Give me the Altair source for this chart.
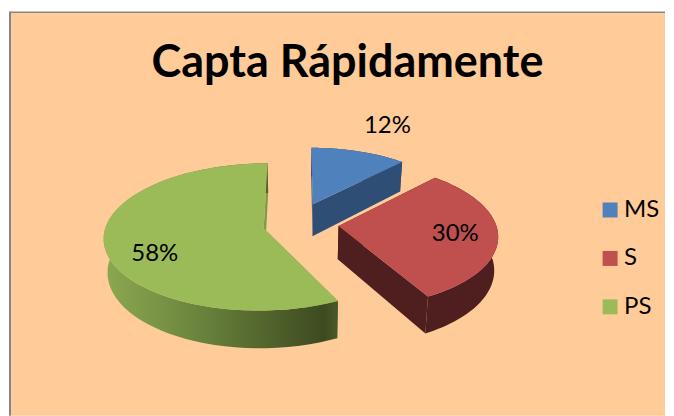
import math
import altair as alt
import pandas as pd

# ---- chart values ----
names = ["MS", "S", "PS"]
shares = [12, 30, 58]
labels = ["12%", "30%", "58%"]
top_colors = ["#4F81BD", "#C0504D", "#9BBB59"]
side_colors = ["#2F4E75", "#4F1F1F", "#7F9A48"]
title_text = "Capta Rápidamente"

# ---- 3-D view of the exploded pie ----
CX, CY, A, B, K, DEPTH, SHRINK = 300, 224, 160, 72.8, 0.12, 33, 0.98
explode = [0.30, 0.23, 0.23]
radius = [0.92, 0.985, 0.985]
nudge_u = [-0.025, 0.015, 0.0]
start_trim = [0.0, 0.0, 2.5]
label_x = [388, 456, 155]
label_y = [126, 234, 254]


def top(u, v):
    s = 1 / (1 - K * v)
    return CX + A * u * s, CY + B * v * s, s


def bottom(u, v):
    x, y, s = top(u, v)
    return CX + (x - CX) * SHRINK, y + DEPTH * s


def slice_geometry():
    out, start = [], 0.0
    for share, e, r, n, trim in zip(shares, explode, radius, nudge_u, start_trim):
        sweep = share * 3.6
        mid = math.radians(start + sweep / 2)
        ou, ov = e * math.sin(mid) + n, -e * math.cos(mid)
        a0, a1 = start + trim, start + sweep
        rim = [
            (ou + r * math.sin(math.radians(a0 + (a1 - a0) * j / 60)),
             ov - r * math.cos(math.radians(a0 + (a1 - a0) * j / 60)))
            for j in range(61)
        ]
        out.append(((ou, ov), rim))
        start += sweep
    return out


geom = slice_geometry()
top_rows, cut_rows, wall_rows = [], [], []
for name, (apex, rim) in zip(names, geom):
    for i, p in enumerate([apex] + rim):
        x, y, _ = top(*p)
        top_rows.append(dict(series=name, i=i, x=x, y=y))
    # outer wall: rim on the upper face, back along the lower face
    n = 0
    for p in rim:
        x, y, _ = top(*p)
        wall_rows.append(dict(series=name, i=n, x=x, y=y))
        n += 1
    for p in reversed(rim):
        x, y = bottom(*p)
        wall_rows.append(dict(series=name, i=n, x=x, y=y))
        n += 1
    # the two cut faces
    for face, p in enumerate([rim[0], rim[-1]]):
        pts = [top(*apex)[:2], top(*p)[:2], bottom(*p), bottom(*apex)]
        for i, (x, y) in enumerate(pts):
            cut_rows.append(dict(series=name, face=face, i=i, x=x, y=y))

tops = pd.DataFrame(top_rows)
walls = pd.DataFrame(wall_rows)
cuts = pd.DataFrame(cut_rows)

xs = alt.Scale(domain=[8, 666], range=[0, 658], nice=False, zero=False)
ys = alt.Scale(domain=[8, 416], range=[0, 408], nice=False, zero=False)
X = alt.X("x:Q", scale=xs, axis=None)
Y = alt.Y("y:Q", scale=ys, axis=None)

frame = alt.Chart(pd.DataFrame([dict(x=11, x2=666, y=12.5, y2=416)])).mark_rect(color="#FFCB98").encode(
    x=X, x2="x2:Q", y=Y, y2="y2:Q"
)
frame_left = alt.Chart(pd.DataFrame([dict(x=10, y=11.5, y2=416)])).mark_rule(color="#868686", strokeWidth=2).encode(
    x=X, y=Y, y2="y2:Q"
)
frame_top = alt.Chart(pd.DataFrame([dict(x=9, x2=666, y=12)])).mark_rule(color="#868686", strokeWidth=1.5).encode(
    x=X, x2="x2:Q", y=Y
)

layers = [frame, frame_left, frame_top]

wall_fills = {
    "MS": side_colors[0],
    "S": side_colors[1],
    "PS": alt.Gradient(
        gradient="linear", x1=0, x2=1, y1=0, y2=0,
        stops=[
            alt.GradientStop(color="#8CA850", offset=0),
            alt.GradientStop(color="#6F8A40", offset=0.35),
            alt.GradientStop(color="#55692F", offset=0.65),
            alt.GradientStop(color="#3D4A20", offset=0.94),
            alt.GradientStop(color="#4A5A28", offset=1),
        ],
    ),
}
for name, color in zip(names, side_colors):
    for face in (0, 1):
        d = cuts[(cuts.series == name) & (cuts.face == face)]
        layers.append(
            alt.Chart(d).mark_line(fill=color, strokeWidth=0, stroke="transparent").encode(x=X, y=Y, order="i:Q")
        )
    d = walls[walls.series == name]
    layers.append(
        alt.Chart(d).mark_line(fill=wall_fills[name], strokeWidth=0, stroke="transparent").encode(x=X, y=Y, order="i:Q")
    )

tops_chart = alt.Chart(tops).mark_line(strokeWidth=0, stroke="transparent").encode(
    x=X, y=Y, order="i:Q",
    fill=alt.Fill(
        "series:N",
        scale=alt.Scale(domain=names, range=top_colors),
        legend=alt.Legend(
            title=None, orient="none", legendX=591, legendY=190,
            symbolType="square", symbolSize=225, symbolStrokeWidth=0,
            labelFont="Lato", labelFontSize=24, labelColor="#000000",
            rowPadding=24.5, labelOffset=2,
        ),
    ),
)
layers.append(tops_chart)

text_df = pd.DataFrame(dict(label=labels, x=label_x, y=label_y))
layers.append(
    alt.Chart(text_df).mark_text(font="Lato", fontSize=24, color="#000000").encode(x=X, y=Y, text="label:N")
)
layers.append(
    alt.Chart(pd.DataFrame([dict(t=title_text, x=348, y=63)])).mark_text(
        font="Lato", fontSize=45, fontWeight="bold", color="#000000"
    ).encode(x=X, y=Y, text="t:N")
)

chart = (
    alt.layer(*layers)
    .properties(width=658, height=408, padding=0, background="#FFFFFF")
    .configure_view(stroke=None)
)
chart.save("out.html", embed_options={"renderer": "svg", "actions": False})
